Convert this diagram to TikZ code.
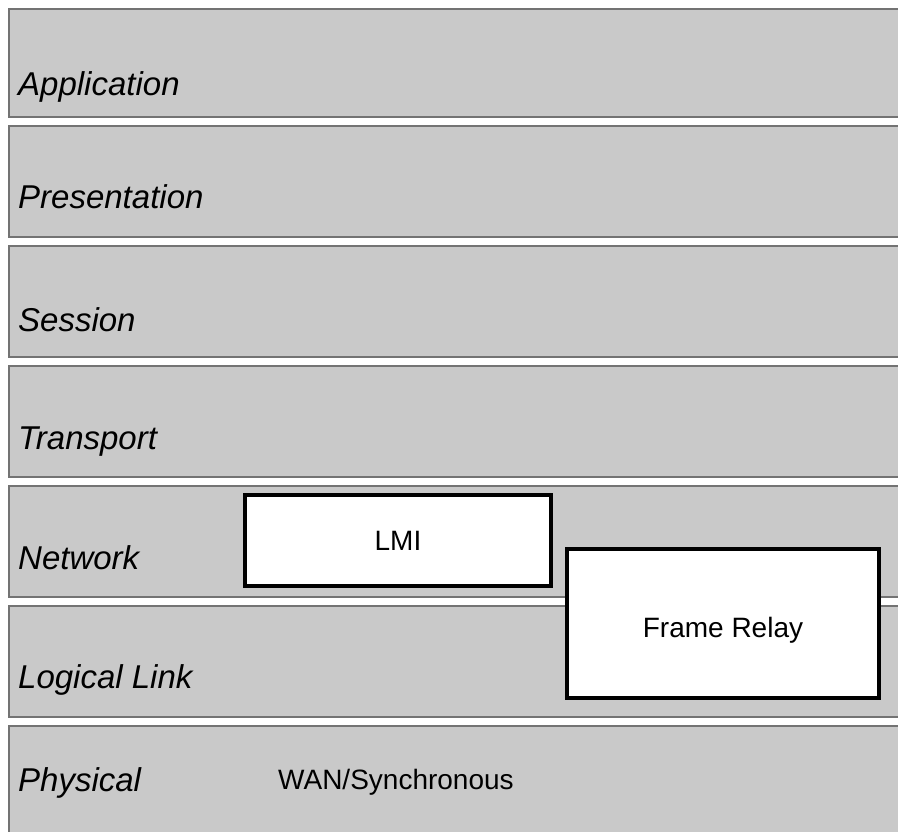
\documentclass[tikz,border=0pt]{standalone}
\usepackage{fontspec}
\setmainfont{Liberation Sans}
\usepackage{xcolor}
\usetikzlibrary{positioning}
\definecolor{layergray}{gray}{0.79}
\definecolor{edgegray}{gray}{0.45}

\begin{document}
\begin{tikzpicture}[x=1pt,y=-1pt,
	% the seven OSI layers as grey bands
	layer/.style={
		draw=edgegray,
		fill=layergray,
		line width=2pt,
		anchor=north west,
		minimum width=900pt,
		inner sep=0pt, outer sep=0pt
	},
	% italic layer names on the left
	layername/.style={
		anchor=base west,
		inner sep=0pt,
		font=\itshape\fontsize{33}{33}\selectfont
	},
	% white boxes of the Frame Relay stack
	proto/.style={
		draw=black,
		fill=white,
		line width=3.5pt,
		inner sep=0pt, outer sep=0pt,
		font=\fontsize{28}{28}\selectfont
	}
	]
	\useasboundingbox (0,0) rectangle (898,832);
	\clip (0,0) rectangle (898,832);
	
	% Bands, top to bottom
	\node[layer, minimum height=108pt] (appband)   at (9,9)   {};
	\node[layer, minimum height=111pt] (presband)  at (9,126) {};
	\node[layer, minimum height=111pt] (sessband)  at (9,246) {};
	\node[layer, minimum height=111pt] (tranband)  at (9,366) {};
	\node[layer, minimum height=111pt] (netband)   at (9,486) {};
	\node[layer, minimum height=111pt] (linkband)  at (9,606) {};
	\node[layer, minimum height=111pt] (physband)  at (9,726) {};
	
	% Layer names
	\node[layername] (app)  at (18,96)  {Application};
	\node[layername] (pres) at (18,209) {Presentation};
	\node[layername] (sess) at (18,331) {Session};
	\node[layername] (tran) at (18,449) {Transport};
	\node[layername] (net)  at (18,569) {Network};
	\node[layername] (link) at (18,688) {Logical Link};
	\node[layername] (phys) at (18,791) {Physical};
	
	% Protocol boxes
	\node[proto, minimum width=306pt, minimum height=91pt]  (lmi) at (398,540.5) {LMI};
	\node[proto, minimum width=312pt, minimum height=149pt] (fr)  at (723,623.5) {};
	\node[inner sep=0pt, font=\fontsize{28}{28}\selectfont, yshift=-7pt] (frtext) at (fr.center) {Frame Relay};
	
	% Physical layer text
	\node[anchor=base west, inner sep=0pt, font=\fontsize{28}{28}\selectfont] (wan) at (278,789) {WAN/Synchronous};
\end{tikzpicture}
\end{document}
